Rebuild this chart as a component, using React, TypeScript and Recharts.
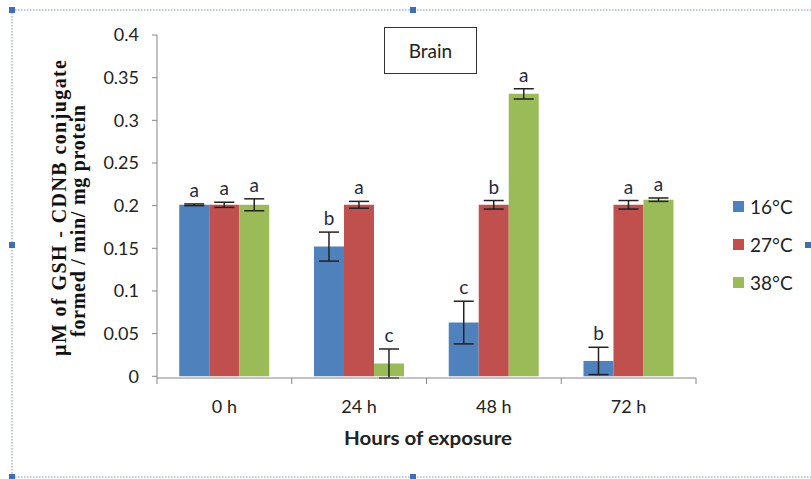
import { Bar, BarChart, ErrorBar, LabelList, Legend, XAxis, YAxis } from 'recharts';

const hours = ['0 h', '24 h', '48 h', '72 h'];
const temps = ['16°C', '27°C', '38°C'];
const t16 = [0.201, 0.152, 0.063, 0.018];
const t27 = [0.201, 0.201, 0.201, 0.201];
const t38 = [0.201, 0.015, 0.331, 0.207];
const err16 = [0.001, 0.017, 0.025, 0.016];
const err27 = [0.003, 0.004, 0.005, 0.005];
const err38 = [0.007, 0.017, 0.006, 0.002];
const letters16 = ['a', 'b', 'c', 'b'];
const letters27 = ['a', 'a', 'b', 'a'];
const letters38 = ['a', 'c', 'a', 'a'];
const yTicks = [0, 0.05, 0.1, 0.15, 0.2, 0.25, 0.3, 0.35, 0.4];

const colors = ['#4f81bd', '#c0504d', '#9bbb59'];
const font = 'Lato, "Open Sans", sans-serif';

const data = hours.map((h, i) => ({
  hour: h,
  t16: t16[i],
  t27: t27[i],
  t38: t38[i],
  e16: err16[i],
  e27: err27[i],
  e38: err38[i],
}));

const series = [
  { key: 't16', err: 'e16', errs: err16, letters: letters16 },
  { key: 't27', err: 'e27', errs: err27, letters: letters27 },
  { key: 't38', err: 'e38', errs: err38, letters: letters38 },
];

// plot is 343px tall for 0.4
const pxPerUnit = 343 / 0.4;

const XTick = (props: any) => {
  const { x, y, payload, index } = props;
  const half = payload?.offset || 67;
  const axisY = y - 8;
  return (
    <g>
      <line x1={x - half} x2={x - half} y1={axisY} y2={axisY + 6} stroke="#868686" />
      {index === hours.length - 1 && (
        <line x1={x + half} x2={x + half} y1={axisY} y2={axisY + 6} stroke="#868686" />
      )}
      <text x={x} y={axisY + 35} textAnchor="middle" fontSize={18} fontFamily={font} fill="#222">
        {payload.value}
      </text>
    </g>
  );
};

const makeLetter = (letters: string[], errs: number[]) => (props: any) => {
  const { x, y, width, index } = props;
  const top = y - errs[index] * pxPerUnit;
  return (
    <text x={x + width / 2} y={top - 7} textAnchor="middle" fontSize={19} fontFamily={font} fill="#1f2a44">
      {letters[index]}
    </text>
  );
};

const renderLegend = () => (
  <div style={{ fontFamily: font, fontSize: 19, color: '#222' }}>
    {temps.map((t, i) => (
      <div key={t} style={{ display: 'flex', alignItems: 'center', height: 38 }}>
        <span style={{ width: 11, height: 11, background: colors[i], marginRight: 6, display: 'inline-block' }} />
        {t}
      </div>
    ))}
  </div>
);

const YLabel = () => (
  <g fontFamily='"Liberation Serif", "Times New Roman", serif' fontWeight="bold" fontSize={20} fill="#111">
    <text transform="rotate(-90, 66, 208)" x={66} y={208} textAnchor="middle" textLength={296} lengthAdjust="spacing">
      µM of GSH  -  CDNB conjugate
    </text>
    <text transform="rotate(-90, 85, 221)" x={85} y={221} textAnchor="middle" textLength={232} lengthAdjust="spacing">
      formed / min/ mg protein
    </text>
  </g>
);

const XLabel = () => (
  <text x={428} y={445} textAnchor="middle" fontSize={18} fontWeight="bold" fontFamily={font} fill="#222" textLength={168} lengthAdjust="spacingAndGlyphs">
    Hours of exposure
  </text>
);

const handles = [
  [12, 10], [12, 245], [12, 477], [413, 10], [413, 477], [808, 245],
];

export default function App() {
  return (
    <div style={{ position: 'absolute', left: 0, top: 0, width: 811, height: 479, background: '#fff' }}>
      <BarChart
        width={811}
        height={479}
        data={data}
        margin={{ top: 35, right: 45, left: 97, bottom: 71 }}
        barCategoryGap="16.5%"
        barGap={0}
      >
        <XAxis
          dataKey="hour"
          height={30}
          axisLine={{ stroke: '#868686' }}
          tickLine={false}
          tick={<XTick />}
          interval={0}
          label={{ content: () => <XLabel /> }}
        />
        <YAxis
          width={60}
          domain={[0, 0.4]}
          ticks={yTicks}
          interval={0}
          axisLine={{ stroke: '#868686' }}
          tickLine={{ stroke: '#868686' }}
          tickSize={5}
          tickMargin={13}
          tick={{ fontSize: 18, fontFamily: font, fill: '#222' }}
          tickFormatter={(v: number) => String(v)}
          label={{ content: () => <YLabel /> }}
        />
        <Legend
          layout="vertical"
          align="right"
          verticalAlign="middle"
          content={renderLegend}
          wrapperStyle={{ left: 733, top: 187, width: 70 }}
        />
        {series.map((s, i) => (
          <Bar key={s.key} dataKey={s.key} name={temps[i]} fill={colors[i]} isAnimationActive={false}>
            <ErrorBar dataKey={s.err} width={10} stroke="#222" strokeWidth={1.5} />
            <LabelList dataKey={s.key} content={makeLetter(s.letters, s.errs)} />
          </Bar>
        ))}
      </BarChart>
      <div
        style={{
          position: 'absolute', left: 384, top: 27, width: 93, height: 47,
          border: '1.5px solid #333', boxSizing: 'border-box', display: 'flex',
          alignItems: 'center', justifyContent: 'center', fontFamily: font, fontSize: 19, color: '#222',
        }}
      >
        Brain
      </div>
      <svg width={811} height={479} style={{ position: 'absolute', left: 0, top: 0, pointerEvents: 'none' }}>
        <path d="M12 10 H811 M12 10 V477 M12 477 H811" stroke="#7f93b5" strokeDasharray="1.5 1.5" fill="none" />
        {handles.map(([hx, hy], i) => (
          <rect key={i} x={hx - 3} y={hy - 3} width={6} height={6} fill="#3f6fb0" />
        ))}
      </svg>
    </div>
  );
}
